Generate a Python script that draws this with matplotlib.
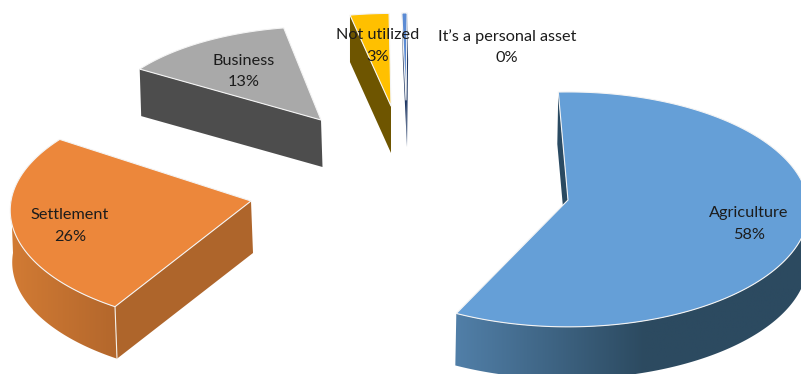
import numpy as np
import matplotlib
matplotlib.use("Agg")
import matplotlib.pyplot as plt
from matplotlib.colors import LinearSegmentedColormap
from matplotlib.patches import Polygon

# Shares per land use
kategorier = ["Agriculture", "Settlement", "Business", "Not utilized", "It\u2019s a personal asset"]
verdier = [57.8, 25.5, 13.3, 3.0, 0.4]

# Colours: top face, cut wall, rim gradient from left to right
farger_topp = ["#659fd7", "#ec873b", "#a9a9a9", "#ffc000", "#5b8bd4"]
farger_kutt = ["#2a4a62", "#ae652b", "#4d4d4d", "#6e5500", "#1f3864"]
farger_kant = [("#517fa8", "#2c4a60"), ("#d27b34", "#b3672c"), ("#4d4d4d", "#4d4d4d"),
               ("#6e5500", "#6e5500"), ("#1f3864", "#1f3864")]

# Exploded layout in pixels: apex, radii, depth, turn of each slice
spisser = [(568, 200), (251, 201), (321, 120), (391, 106), (406, 100)]
radier = [(240, 116.7), (240, 116), (222, 101), (225, 100), (225, 94)]
dybder = [(-1, 52), (2, 52), (1.5, 47), (0, 47), (1, 47)]
vri = [-2.8, 3.5, 1.5, 0.6, 0]
etikett_pos = [(749, 224), (70, 226), (244, 71.5), (378, 46), (507, 47)]

START = 0.3
PERSPEKTIV = 0.08


def punkt(spiss, radius, theta):
    # theta in degrees clockwise from the top of the pie
    t = np.radians(theta)
    u, v = np.sin(t), np.cos(t)
    w = 1 + PERSPEKTIV * v
    return np.column_stack([spiss[0] + radius[0] * u / w, spiss[1] - radius[1] * v / w])


def vegg(ax, hjorner, farge, z):
    ax.add_patch(Polygon(hjorner, closed=True, facecolor=farge, edgecolor="none", zorder=z))


fig = plt.figure(figsize=(8.01, 3.74), dpi=100)
ax = fig.add_axes([0, 0, 1, 1])
ax.set_xlim(0, 801)
ax.set_ylim(374, 0)
ax.axis("off")

vinkler = np.cumsum([0] + verdier) / sum(verdier) * 360 + START

for i in [2, 3, 4, 1, 0]:
    a0 = vinkler[i] + vri[i]
    a1 = vinkler[i + 1] + vri[i]
    spiss = np.array(spisser[i], dtype=float)
    radius = radier[i]
    d = np.array(dybder[i], dtype=float)
    z = 2 + (0 if i > 1 else 1)

    bue = punkt(spiss, radius, np.linspace(a0, a1, 200))
    midt = punkt(spiss, radius, np.array([(a0 + a1) / 2]))[0] - spiss

    # Cut walls that face the viewer
    for rand in (bue[0], bue[-1]):
        e = rand - spiss
        n = np.array([-e[1], e[0]])
        if n @ midt > 0:
            n = -n
        if n[1] > 0:
            vegg(ax, [spiss, rand, rand + d, spiss + d], farger_kutt[i], z)

    # Outer wall on the front half, shaded from left to right
    b0 = max(a0, 90)
    b1 = min(a1, 270)
    if b1 > b0:
        front = punkt(spiss, radius, np.linspace(b0, b1, 200))
        kant = np.vstack([front, front[::-1] + d])
        poly = Polygon(kant, closed=True, facecolor="none", edgecolor="none", zorder=z)
        ax.add_patch(poly)
        cmap = LinearSegmentedColormap.from_list("kant", list(farger_kant[i]))
        x0, x1 = kant[:, 0].min(), kant[:, 0].max()
        y0, y1 = kant[:, 1].min(), kant[:, 1].max()
        if i == 0:
            # the dark end of the blue rim is reached well before the right side
            grad = np.clip((np.linspace(x0, x1, 256) - x0) / 190, 0, 1)
        else:
            grad = np.linspace(0, 1, 256)
        bilde = ax.imshow(grad[None, :], extent=(x0, x1, y1, y0), cmap=cmap, aspect="auto",
                          zorder=z, vmin=0, vmax=1)
        bilde.set_clip_path(poly)
        ax.set_xlim(0, 801)
        ax.set_ylim(374, 0)

    # Top face
    flate = np.vstack([spiss, bue])
    ax.add_patch(Polygon(flate, closed=True, facecolor=farger_topp[i], edgecolor="#f4f4f4",
                         linewidth=0.8, joinstyle="round", zorder=z + 0.5))

    if i == 1:
        ax.plot([bue[0][0], bue[0][0] + d[0]], [bue[0][1], bue[0][1] + d[1]],
                color="#f4f0ea", linewidth=0.8, zorder=z + 0.4)

for navn, verdi, pos in zip(kategorier, verdier, etikett_pos):
    ax.text(pos[0], pos[1], f"{navn}\n{verdi:.0f}%", ha="center", va="center", fontsize=11.7,
            family=["Lato", "DejaVu Sans"], color="#1c1c1c", linespacing=1.65, zorder=10)

fig.savefig("out.png", dpi=100)
